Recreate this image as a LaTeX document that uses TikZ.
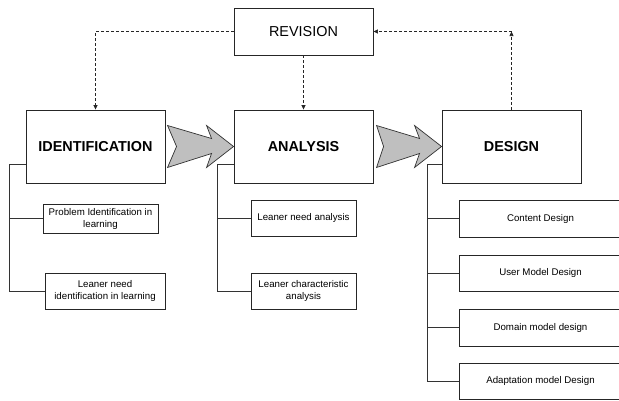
\documentclass[tikz,border=0pt]{standalone}
\usepackage{fontspec}
\setmainfont{Liberation Sans}
\usetikzlibrary{arrows.meta,calc}
\begin{document}
\begin{tikzpicture}[x=1pt,y=-1pt,
  stage/.style={draw=black!85, line width=0.9pt, fill=white, minimum width=139pt,
    minimum height=73pt, inner sep=0pt, font=\fontsize{14.4}{16}\selectfont\bfseries},
  review/.style={stage, minimum height=47pt, font=\fontsize{14.4}{16}\selectfont},
  task/.style={draw=black!85, line width=0.9pt, fill=white, inner sep=0pt, align=center,
    font=\fontsize{9.7}{12}\selectfont},
  tree/.style={draw=black!80, line width=0.9pt},
  fb/.style={draw=black!85, line width=0.7pt, dash pattern=on 3pt off 2pt,
    -{Triangle[length=4.5pt,width=4pt]}},
  bigarrow/.style={draw=black!80, line width=0.7pt, fill=black!25, line join=miter}
]
\clip (0,0) rectangle (619,400);

% main stages
\node[review] (rev) at (303.5,31.5) {REVISION};
\node[stage] (id) at (95.5,146.5) {IDENTIFICATION};
\node[stage] (an) at (303.5,146.5) {ANALYSIS};
\node[stage] (de) at (511.5,146.5) {DESIGN};

% block arrows between stages
\draw[bigarrow, shift={(an.west)}] (-66,-21) -- (-22,-8) -- (-27,-21) -- (0,0)
  -- (-27,21) -- (-22,7) -- (-66,21) -- (-57,0) -- cycle;
\draw[bigarrow, shift={(de.west)}] (-65,-21) -- (-22,-8) -- (-27,-21) -- (0,0)
  -- (-27,21) -- (-22,7) -- (-65,21) -- (-58,0) -- cycle;

% revision feedback loop
\draw[fb] (rev.west) -| (id.north);
\draw[fb] (rev.south) -- (an.north);
\coordinate (corner) at (de.north |- rev.east);
\draw[fb] (de.north) -- (corner);
\draw[fb] (corner) -- (rev.east);

% identification tasks
\node[task, minimum width=115pt, minimum height=29pt] (id1) at (100.5,218.5)
  {Problem Identification in\\learning};
\node[task, minimum width=120pt, minimum height=36pt] (id2) at (105,291)
  {Leaner need\\identification in learning};
\coordinate (idt) at (9,164);
\draw[tree] ([yshift=-17.5pt]id.west) -- (idt) |- (id2.west);
\draw[tree] (idt |- id1.west) -- (id1.west);

% analysis tasks
\node[task, minimum width=105pt, minimum height=36pt] (an1) at (303.5,218)
  {Leaner need analysis};
\node[task, minimum width=105pt, minimum height=36pt] (an2) at (303.5,291)
  {Leaner characteristic\\analysis};
\coordinate (ant) at (217,164);
\draw[tree] ([yshift=-17.5pt]an.west) -- (ant) |- (an2.west);
\draw[tree] (ant |- an1.west) -- (an1.west);

% design tasks
\node[task, minimum width=163pt, minimum height=37pt] (de1) at (540.5,218.5) {Content Design};
\node[task, minimum width=163pt, minimum height=36pt] (de2) at (540.5,273) {User Model Design};
\node[task, minimum width=163pt, minimum height=37pt] (de3) at (540.5,327.5) {Domain model design};
\node[task, minimum width=163pt, minimum height=36pt] (de4) at (540.5,381) {Adaptation model Design};
\coordinate (det) at (427,164);
\draw[tree] ([yshift=-17.5pt]de.west) -- (det) |- (de4.west);
\draw[tree] (det |- de1.west) -- (de1.west);
\draw[tree] (det |- de2.west) -- (de2.west);
\draw[tree] (det |- de3.west) -- (de3.west);
\end{tikzpicture}
\end{document}
